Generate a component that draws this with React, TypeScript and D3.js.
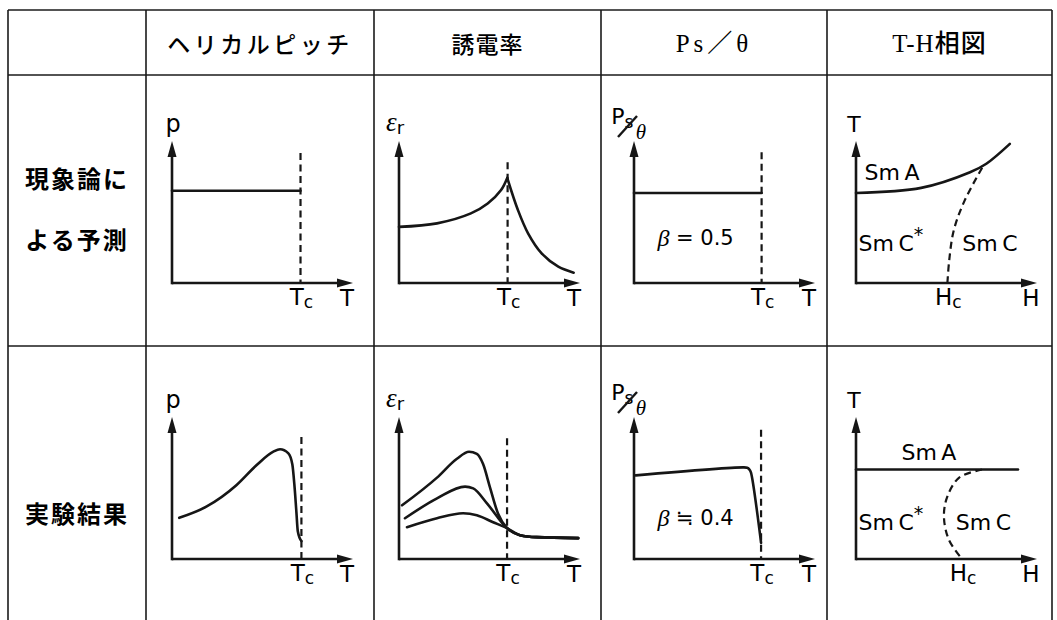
import React from "react";
import * as d3 from "d3";

type Pt = [number, number];

// table text
const headerLabels = ["", "ヘリカルピッチ", "誘電率", "Ps／θ", "T-H相図"];
const rowLabels = [["現象論に", "よる予測"], ["実験結果"]];

// row 1: 現象論による予測  (axis units, 0..100 along each arrow)
const pitchTheory: Pt[] = [[0, 65], [71, 65]];
const epsTheoryBelow: Pt[] = [[0, 39.5], [21, 42], [39.7, 49], [49, 56], [56.4, 65.5], [59.8, 74]];
const epsTheoryAbove: Pt[] = [[59.8, 74], [65.7, 51.4], [71.3, 35], [78.8, 20.9], [88, 11.5], [96.5, 7.3]];
const psTheory: Pt[] = [[0, 63.4], [70.5, 63.4]];
const thTheoryAC: Pt[] = [[0, 63.4], [36, 67], [63, 78], [72, 84], [85, 98]];
const thTheoryCC: Pt[] = [[50.5, 0], [51.5, 16], [54, 37], [60, 58], [71, 84]];

// row 2: 実験結果
const pitchExp: Pt[] = [[4, 29], [19.2, 37], [35.7, 52.1], [46.8, 66.2], [56, 75.6], [59.7, 77.3], [64.3, 74.4], [66.5, 66.5], [67.6, 52.5], [68.7, 33.6], [69.5, 19.6], [71.5, 12.6]];
const epsExpHigh: Pt[] = [[1.7, 37.8], [21, 57.3], [32, 70.6], [38.7, 75.5], [43, 74], [46.4, 67], [50.3, 50.3], [54.7, 32], [59.7, 21.7]];
const epsExpMid: Pt[] = [[3.3, 28.7], [21, 42.7], [36.5, 51], [41, 49.7], [48.6, 39.2], [59.7, 21.7]];
const epsExpLow: Pt[] = [[4.4, 22.4], [21, 28.7], [35.4, 32.2], [43, 30.8], [52, 25.9], [59.7, 21.7]];
const epsExpTail: Pt[] = [[59.7, 21.7], [66.9, 16.8], [76, 15.4], [99, 14.7]];
const psExp: Pt[] = [[1, 58.9], [60.5, 64.5], [62.5, 64.2], [63.8, 63], [64.6, 61], [70.2, 11.3]];
const thExpAC: Pt[] = [[0, 63], [89.5, 63]];
const thExpCC: Pt[] = [[69.6, 63], [57, 57.3], [50.3, 43.4], [48.6, 29.4], [51.4, 13.3], [58.6, 0]];

// Tc / Hc per row & column, and where the dashed Tc line stops
const tcValues = [[71, 60, 70.5, 50.5], [71.5, 59.7, 70.2, 58.6]];
const tcDashTop = [[91.5, 85, 92], [86, 85, 91]];
const betaLabels = ["β = 0.5", "β ≒ 0.4"];

const W = 1057, H = 620;
const colEdges = [8, 146, 374, 601, 827, 1052];
const rowEdges = [10, 75, 346, 620];
const axisX = [172, 399, 634, 856];
const axisY = [283, 559];
const AX_LEN = 181, AY_LEN = 142;

const ink = "#161616";
const SANS = "'DejaVu Sans', sans-serif";
const CJK = "'Noto Sans CJK JP', sans-serif";
const SERIF = "'Liberation Serif', 'Noto Sans CJK JP', serif";

function Panel({ row, col }: { row: number; col: number }) {
  const x0 = axisX[col], y0 = axisY[row];
  const x = d3.scaleLinear().domain([0, 100]).range([x0, x0 + AX_LEN]);
  const y = d3.scaleLinear().domain([0, 100]).range([y0, y0 - AY_LEN]);
  const smooth = d3.line<Pt>().x(d => x(d[0])).y(d => y(d[1])).curve(d3.curveMonotoneX);
  const loose = d3.line<Pt>().x(d => x(d[0])).y(d => y(d[1])).curve(d3.curveCatmullRom.alpha(0.5));
  const tx = x(100), ty = y(100);
  const tc = tcValues[row][col];
  const solid = (d: Pt[], k: number, gen = smooth) => (
    <path key={k} d={gen(d) || ""} fill="none" stroke={ink} strokeWidth={2.6} strokeLinejoin="round" strokeLinecap="round" />
  );

  let curves: React.ReactNode[] = [];
  let extra: React.ReactNode[] = [];
  let yLabel: React.ReactNode = null;
  const xName = col === 3 ? "H" : "T";

  if (col === 0) {
    yLabel = <text x={x0 + 1} y={ty - 9} textAnchor="middle" fontSize={24} fontFamily={SANS}>p</text>;
    curves = [solid(row === 0 ? pitchTheory : pitchExp, 0)];
  } else if (col === 1) {
    yLabel = (
      <text x={x0 - 13} y={ty - 10} fontSize={27} fontFamily={SERIF} fontStyle="italic">ε
        <tspan fontSize={18} fontStyle="normal" fontFamily={SANS} dy={3}>r</tspan></text>
    );
    curves = row === 0
      ? [solid(epsTheoryBelow, 0, loose), solid(epsTheoryAbove, 1, loose)]
      : [epsExpHigh, epsExpMid, epsExpLow].map((c, i) => solid(c.concat(epsExpTail.slice(1)), i));
  } else if (col === 2) {
    yLabel = (
      <g fontFamily={SANS}>
        <text x={x0 - 16} y={ty - 17} textAnchor="middle" fontSize={22}>P</text>
        <text x={x0 - 5} y={ty - 13} textAnchor="middle" fontSize={17}>s</text>
        <line x1={x0 - 16} y1={ty - 4} x2={x0 + 3} y2={ty - 25} stroke={ink} strokeWidth={2.4} />
        <text x={x0 + 7} y={ty - 2} textAnchor="middle" fontSize={21} fontFamily={SERIF} fontStyle="italic">θ</text>
      </g>
    );
    curves = [solid(row === 0 ? psTheory : psExp, 0, loose)];
    extra = [
      <text key="b" x={x(34)} y={y(row === 0 ? 31.7 : 29)} textAnchor="middle" dominantBaseline="central" fontSize={21} fontFamily={SANS}>
        <tspan fontFamily={SERIF} fontStyle="italic" fontSize={24}>{betaLabels[row].slice(0, 1)}</tspan>{betaLabels[row].slice(1)}
      </text>,
    ];
  } else {
    yLabel = <text x={x0 - 2} y={ty - 9} textAnchor="middle" fontSize={22} fontFamily={SANS}>T</text>;
    const ac = row === 0 ? thTheoryAC : thExpAC;
    const cc = row === 0 ? thTheoryCC : thExpCC;
    curves = [
      solid(ac, 0, loose),
      <path key="cc" d={loose(cc) || ""} fill="none" stroke={ink} strokeWidth={2.2} strokeDasharray="7 4.5" />,
    ];
    const lab = row === 0
      ? { a: [19.9, 78], cs: [19.3, 28], c: [74, 28] }
      : { a: [40.3, 75], cs: [19.3, 26], c: [70.4, 26] };
    extra = [
      <text key="a" x={x(lab.a[0])} y={y(lab.a[1])} textAnchor="middle" dominantBaseline="central" fontSize={22} fontFamily={SANS}>Sm{"\u2009"}A</text>,
      <text key="cs" x={x(lab.cs[0])} y={y(lab.cs[1])} textAnchor="middle" dominantBaseline="central" fontSize={22} fontFamily={SANS}>Sm{"\u2009"}C<tspan fontSize={19} dy={-9}>*</tspan></text>,
      <text key="c" x={x(lab.c[0])} y={y(lab.c[1])} textAnchor="middle" dominantBaseline="central" fontSize={22} fontFamily={SANS}>Sm{"\u2009"}C</text>,
    ];
  }

  return (
    <g>
      {/* axes with arrow heads */}
      <line x1={x0} y1={y0} x2={tx - 10} y2={y0} stroke={ink} strokeWidth={2.6} />
      <path d={`M${tx},${y0}L${tx - 16},${y0 - 4.5}L${tx - 16},${y0 + 4.5}Z`} fill={ink} />
      <line x1={x0} y1={y0 + 1.3} x2={x0} y2={ty + 10} stroke={ink} strokeWidth={2.6} />
      <path d={`M${x0},${ty}L${x0 - 4.5},${ty + 16}L${x0 + 4.5},${ty + 16}Z`} fill={ink} />
      {col < 3 && (
        <line x1={x(tc)} y1={y(tcDashTop[row][col])} x2={x(tc)} y2={y0} stroke={ink} strokeWidth={2.2} strokeDasharray="7 4.5" />
      )}
      {curves}
      {extra}
      {yLabel}
      <text x={tx - 6} y={y0 + 23} textAnchor="middle" fontSize={23} fontFamily={SANS}>{xName}</text>
      <text x={x(tc) + 1} y={y0 + 22} textAnchor="middle" fontSize={23} fontFamily={SANS}>
        {xName}<tspan fontSize={17} dy={3}>c</tspan>
      </text>
    </g>
  );
}

export default function App() {
  const rowLabelY = [[177, 238], [512]];
  return (
    <svg width={W} height={H} style={{ position: "absolute", left: 0, top: 0, background: "#fff" }}>
      <g stroke="#1a1a1a" strokeWidth={1.6}>
        {rowEdges.slice(0, 3).map((yy, i) => (
          <line key={"h" + i} x1={colEdges[0]} x2={colEdges[5]} y1={yy} y2={yy} />
        ))}
        {colEdges.map((xx, i) => (
          <line key={"v" + i} x1={xx} x2={xx} y1={rowEdges[0]} y2={rowEdges[3]} />
        ))}
      </g>
      {headerLabels.map((h, i) =>
        h ? (
          <text key={h} x={(colEdges[i] + colEdges[i + 1]) / 2} y={43} textAnchor="middle" dominantBaseline="central"
            fontSize={i === 3 || i === 4 ? 25 : 23} fontWeight={500}
            fontFamily={i === 3 || i === 4 ? SERIF : CJK}
            letterSpacing={i === 1 ? 3.5 : i === 3 ? 4 : 1}>{h}</text>
        ) : null
      )}
      {rowLabels.map((lines, r) =>
        lines.map((t, k) => (
          <text key={t} x={(colEdges[0] + colEdges[1]) / 2} y={rowLabelY[r][k]} textAnchor="middle" dominantBaseline="central"
            fontSize={24} fontWeight={700} fontFamily={CJK} letterSpacing={2}>{t}</text>
        ))
      )}
      {[0, 1].map(r => [0, 1, 2, 3].map(c => <Panel key={r + "-" + c} row={r} col={c} />))}
    </svg>
  );
}
